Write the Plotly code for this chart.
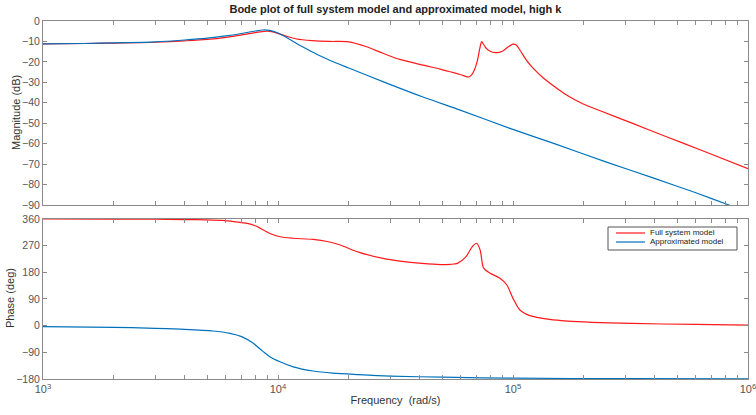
import plotly.graph_objects as go

# ---------------- data ----------------
mag_full_w = [1000, 1500, 2000, 2500, 3000, 4000, 5000, 6000, 7000, 8000, 8600, 9060, 9900,
              11000, 12000, 14000, 16600, 20000, 23800, 28000, 33000, 41500, 49000, 54000,
              60000, 64500, 66500, 68500, 70500, 72500, 73600, 75000, 77000, 80000, 84000,
              88000, 91000, 95000, 100000, 103000, 107000, 114000, 122000, 135000, 149000,
              169000, 199000, 235000, 325000, 450000, 625000, 1000000]
mag_full_db = [-11.2, -11.0, -10.8, -10.6, -10.4, -9.7, -9.0, -8.0, -6.8, -5.7, -5.2, -5.0, -5.9,
               -7.6, -8.8, -9.6, -10.0, -10.2, -12.6, -15.8, -18.8, -21.6, -23.5, -24.8,
               -26.3, -27.4, -26.5, -24.0, -19.5, -12.5, -10.1, -11.5, -13.4, -14.8, -15.5,
               -15.2, -14.5, -12.8, -11.3, -11.6, -14.2, -19.1, -23.2, -28.0, -31.8,
               -36.2, -40.6, -43.9, -50.2, -56.6, -63.0, -72.2]

mag_apx_w = [1000, 1500, 2000, 3000, 4000, 5000, 6000, 7000, 8000, 8600, 9200, 10000, 11000,
             12000, 13300, 15000, 16600, 20000, 29000, 41400, 60000, 97000, 150000, 250000,
             400000, 600000, 830000, 1000000]
mag_apx_db = [-11.2, -11.0, -10.7, -10.2, -9.3, -8.4, -7.3, -6.1, -4.9, -4.4, -4.6, -5.9, -8.4,
              -11.0, -13.8, -16.9, -19.2, -23.0, -30.4, -37.2, -43.7, -52.5, -60.0, -69.0,
              -77.0, -84.0, -90.0, -93.2]

ph_full_w = [1000, 2000, 3000, 4000, 5000, 5800, 6500, 7400, 8000, 8400, 9200, 10200, 11600,
             14100, 16200, 18400, 22000, 28000, 33000, 41000, 49000, 54000, 58000, 63000,
             67000, 70000, 72500, 75000, 80000, 88000, 94000, 100000, 107000, 118000, 143000,
             170000, 320000, 600000, 1000000]
ph_full_deg = [360, 359.6, 359, 358, 357, 355, 351, 345, 337, 329, 312, 300, 295,
               291, 284, 272, 248, 227, 218, 210, 206, 207, 210, 232,
               266, 278, 255, 194, 177, 160, 138, 92, 53, 34, 21,
               15.5, 7.6, 4, 2]

ph_apx_w = [1000, 2000, 3000, 3830, 5300, 6250, 7000, 7800, 8600, 9200, 10200, 11600, 14100,
            17100, 22000, 30000, 50000, 100000, 300000, 1000000]
ph_apx_deg = [-3, -5.5, -9, -12, -18, -26, -37, -58, -86, -104, -122, -139, -153,
              -160, -165, -170, -174, -177, -179, -179.6]

series_names = ["Full system model", "Approximated model"]
mag_ticks = [0, -10, -20, -30, -40, -50, -60, -70, -80, -90]
ph_ticks = [-180, -90, 0, 90, 180, 270, 360]
decades = [3, 4, 5, 6]

# ---------------- styling ----------------
RED = "#ff1a1a"
BLUE = "#0072bd"
AXC = "#8a8a8a"
FONT = "Liberation Sans, Arial, sans-serif"
W, H = 756, 415
ML, MR, MT, MB = 43, 8, 21, 36

xt_vals, xt_text = [], []
for d in decades:
    for m in range(1, 10):
        if d == 6 and m > 1:
            break
        xt_vals.append(m * 10 ** d)
        xt_text.append(f"10<sup>{d}</sup>" if m == 1 else "")

line_style = dict(width=1.2, shape="spline", smoothing=0.8)
fig = go.Figure()
fig.add_trace(go.Scatter(x=mag_full_w, y=mag_full_db, mode="lines", name=series_names[0],
                         line=dict(line_style, color=RED), xaxis="x", yaxis="y"))
fig.add_trace(go.Scatter(x=mag_apx_w, y=mag_apx_db, mode="lines", name=series_names[1],
                         line=dict(line_style, color=BLUE), xaxis="x", yaxis="y"))
fig.add_trace(go.Scatter(x=ph_full_w, y=ph_full_deg, mode="lines", name=series_names[0],
                         line=dict(line_style, color=RED), xaxis="x2", yaxis="y2"))
fig.add_trace(go.Scatter(x=ph_apx_w, y=ph_apx_deg, mode="lines", name=series_names[1],
                         line=dict(line_style, color=BLUE), xaxis="x2", yaxis="y2"))

common_x = dict(type="log", range=[3, 6], tickvals=xt_vals, showline=True, linecolor=AXC,
                linewidth=1, mirror="ticks", ticks="inside", ticklen=4, tickcolor=AXC,
                showgrid=False, zeroline=False, automargin=False, ticklabeloverflow="allow",
                tickfont=dict(size=11, color="#555", family=FONT))
common_y = dict(showline=True, linecolor=AXC, linewidth=1, mirror="ticks", ticks="inside",
                ticklen=4, tickcolor=AXC, showgrid=False, zeroline=False, automargin=False,
                ticklabeloverflow="allow",
                tickfont=dict(size=10.5, color="#555", family=FONT))

# pixel -> paper helpers
pw, ph = W - ML - MR, H - MT - MB
def px(x):
    return (x - ML) / pw
def py(y):
    return (H - MB - y) / ph

# manual compact legend (MATLAB style)
shapes = [
    dict(type="rect", xref="paper", yref="paper", x0=px(608), x1=px(737), y0=py(250), y1=py(227),
         line=dict(color="#555", width=1), fillcolor="white", layer="above"),
    dict(type="line", xref="paper", yref="paper", x0=px(616), x1=px(645), y0=py(233), y1=py(233),
         line=dict(color=RED, width=1.2), layer="above"),
    dict(type="line", xref="paper", yref="paper", x0=px(616), x1=px(645), y0=py(242), y1=py(242),
         line=dict(color=BLUE, width=1.2), layer="above"),
]
annotations = [
    dict(text=series_names[0], xref="paper", yref="paper", x=px(648), y=py(233),
         xanchor="left", yanchor="middle", showarrow=False,
         font=dict(size=8, color="#222", family=FONT)),
    dict(text=series_names[1], xref="paper", yref="paper", x=px(648), y=py(242),
         xanchor="left", yanchor="middle", showarrow=False,
         font=dict(size=8, color="#222", family=FONT)),
    # y-axis titles
    dict(text="Magnitude (dB)", xref="paper", yref="paper", x=px(16), y=py(113),
         xanchor="center", yanchor="middle", textangle=-90, showarrow=False,
         font=dict(size=11, color="#333", family=FONT)),
    dict(text="Phase (deg)", xref="paper", yref="paper", x=px(10), y=py(298),
         xanchor="center", yanchor="middle", textangle=-90, showarrow=False,
         font=dict(size=11, color="#333", family=FONT)),
]

fig.update_layout(
    width=W, height=H,
    margin=dict(l=ML, r=MR, t=MT, b=MB, autoexpand=False),
    paper_bgcolor="white", plot_bgcolor="white",
    font=dict(family=FONT, color="#333"),
    title=dict(text="<b>Bode plot of full system model and approximated model, high k</b>",
               x=0.523, xanchor="center", y=0.979, yanchor="middle", yref="container",
               font=dict(size=11, color="#222", family=FONT)),
    xaxis=dict(common_x, anchor="y", domain=[0, 1], ticktext=[""] * len(xt_vals)),
    yaxis=dict(common_y, anchor="x", domain=[0.486, 1], range=[-90, 0], tickvals=mag_ticks),
    xaxis2=dict(common_x, anchor="y2", domain=[0, 1], ticktext=xt_text,
                title=dict(text="Frequency  (rad/s)", font=dict(size=11, color="#333"), standoff=2)),
    yaxis2=dict(common_y, anchor="x2", domain=[0, 0.447], range=[-180, 360], tickvals=ph_ticks),
    shapes=shapes,
    annotations=annotations,
    showlegend=False,
)

fig.write_html("out.html")
